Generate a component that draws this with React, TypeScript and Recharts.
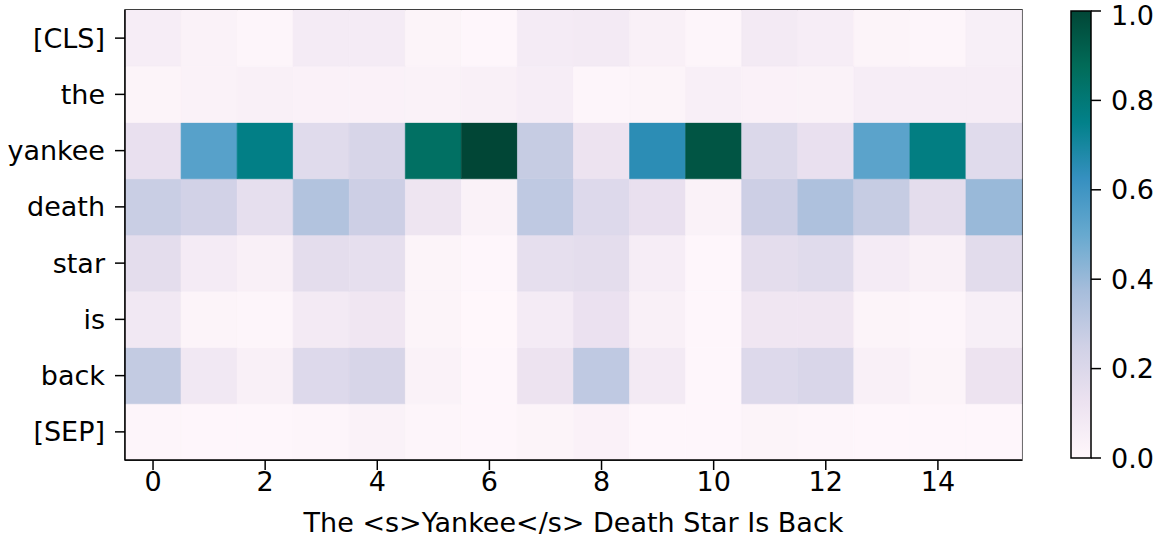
import { Bar, BarChart, Cell, ReferenceArea, XAxis, YAxis } from "recharts";

const tokens = ["[CLS]", "the", "yankee", "death", "star", "is", "back", "[SEP]"];
const columns = [0, 1, 2, 3, 4, 5, 6, 7, 8, 9, 10, 11, 12, 13, 14, 15];

const clsRow = [0.06, 0.03, 0.01, 0.07, 0.07, 0.02, 0.005, 0.07, 0.08, 0.04, 0.01, 0.08, 0.06, 0.02, 0.01, 0.05];
const theRow = [0.02, 0.03, 0.04, 0.035, 0.035, 0.03, 0.04, 0.06, 0.01, 0.02, 0.045, 0.035, 0.03, 0.06, 0.06, 0.06];
const yankeeRow = [0.14, 0.54, 0.76, 0.18, 0.22, 0.85, 1.0, 0.28, 0.12, 0.65, 0.95, 0.2, 0.14, 0.53, 0.77, 0.18];
const deathRow = [0.27, 0.24, 0.15, 0.34, 0.26, 0.11, 0.03, 0.3, 0.19, 0.14, 0.03, 0.26, 0.35, 0.28, 0.16, 0.4];
const starRow = [0.16, 0.07, 0.04, 0.16, 0.15, 0.02, 0.005, 0.15, 0.16, 0.06, 0.005, 0.16, 0.18, 0.07, 0.04, 0.17];
const isRow = [0.09, 0.02, 0.01, 0.08, 0.1, 0.02, 0.0, 0.07, 0.13, 0.04, 0.005, 0.1, 0.1, 0.02, 0.01, 0.05];
const backRow = [0.29, 0.09, 0.04, 0.19, 0.22, 0.03, 0.005, 0.12, 0.3, 0.08, 0.005, 0.19, 0.21, 0.04, 0.02, 0.12];
const sepRow = [0.01, 0.005, 0.005, 0.01, 0.03, 0.01, 0.005, 0.02, 0.035, 0.005, 0.005, 0.02, 0.01, 0.005, 0.005, 0.005];

const rows = [clsRow, theRow, yankeeRow, deathRow, starRow, isRow, backRow, sepRow];
const colorbarTicks = [0, 0.2, 0.4, 0.6, 0.8, 1.0];

// matplotlib PuBuGn
const PUBUGN = ["#fff7fb", "#ece2f0", "#d0d1e6", "#a6bddb", "#67a9cf", "#3690c0", "#02818a", "#016c59", "#014636"];

function hexToRgb(h: string) {
  return [1, 3, 5].map((i) => parseInt(h.slice(i, i + 2), 16));
}

function cmap(v: number) {
  const t = Math.max(0, Math.min(1, v)) * (PUBUGN.length - 1);
  const i = Math.min(Math.floor(t), PUBUGN.length - 2);
  const f = t - i;
  const a = hexToRgb(PUBUGN[i]);
  const b = hexToRgb(PUBUGN[i + 1]);
  const c = a.map((x, k) => Math.round(x + (b[k] - x) * f));
  return `rgb(${c[0]},${c[1]},${c[2]})`;
}

// stack order is bottom-up, so [SEP] goes first
const stackOrder = rows.map((_, i) => rows.length - 1 - i);

const data = columns.map((col) => {
  const entry: Record<string, number> = { col };
  stackOrder.forEach((r) => {
    entry[`r${r}`] = 1;
  });
  return entry;
});

const font = "DejaVu Sans";
const tickStyle = { fill: "#000", fontSize: 27, fontFamily: font };

export default function App() {
  return (
    <div style={{ position: "absolute", left: 0, top: 0, width: 1161, height: 545, background: "#fff" }}>
      <div style={{ position: "absolute", left: 0, top: 0 }}>
        <BarChart
          width={1161}
          height={545}
          data={data}
          margin={{ top: 10, right: 139, left: 5, bottom: 10 }}
          barCategoryGap={0}
          barGap={0}
        >
          <XAxis
            dataKey="col"
            interval={1}
            height={75}
            tick={tickStyle}
            tickSize={10}
            tickMargin={2}
            tickLine={{ stroke: "#000", strokeWidth: 1.5 }}
            axisLine={{ stroke: "#000", strokeWidth: 1.5 }}
            label={{
              value: "The <s>Yankee</s> Death Star Is Back",
              position: "insideBottom",
              offset: 3,
              fill: "#000",
              fontSize: 27,
              fontFamily: font,
            }}
          />
          <YAxis
            type="number"
            domain={[0, 8]}
            ticks={[0.5, 1.5, 2.5, 3.5, 4.5, 5.5, 6.5, 7.5]}
            tickFormatter={(v: number) => tokens[rows.length - 1 - Math.floor(v)]}
            width={120}
            tick={tickStyle}
            tickSize={10}
            tickMargin={10}
            tickLine={{ stroke: "#000", strokeWidth: 1.5 }}
            axisLine={{ stroke: "#000", strokeWidth: 1.5 }}
            allowDataOverflow
          />
          {stackOrder.map((r) => (
            <Bar key={r} dataKey={`r${r}`} stackId="heat" isAnimationActive={false}>
              {columns.map((c) => (
                <Cell key={c} fill={cmap(rows[r][c])} stroke={cmap(rows[r][c])} strokeWidth={0.6} />
              ))}
            </Bar>
          ))}
          <ReferenceArea y1={0} y2={8} fill="none" stroke="#000" strokeWidth={1.5} ifOverflow="visible" />
        </BarChart>
      </div>
      <div style={{ position: "absolute", left: 1061, top: 0 }}>
        <BarChart
          width={100}
          height={545}
          data={[{ name: "cbar", v: 1 }]}
          margin={{ top: 11, right: 0, left: 10, bottom: 87 }}
          barCategoryGap={0}
        >
          <defs>
            <linearGradient id="cbarGradient" x1="0" y1="1" x2="0" y2="0">
              {PUBUGN.map((c, i) => (
                <stop key={i} offset={`${(i / (PUBUGN.length - 1)) * 100}%`} stopColor={c} />
              ))}
            </linearGradient>
          </defs>
          <XAxis dataKey="name" hide />
          <YAxis
            orientation="right"
            type="number"
            domain={[0, 1]}
            ticks={colorbarTicks}
            tickFormatter={(v: number) => v.toFixed(1)}
            width={70}
            tick={tickStyle}
            tickSize={10}
            tickMargin={10}
            tickLine={{ stroke: "#000", strokeWidth: 1.5 }}
            axisLine={false}
          />
          <Bar dataKey="v" fill="url(#cbarGradient)" stroke="#000" strokeWidth={1.5} isAnimationActive={false} />
        </BarChart>
      </div>
    </div>
  );
}
